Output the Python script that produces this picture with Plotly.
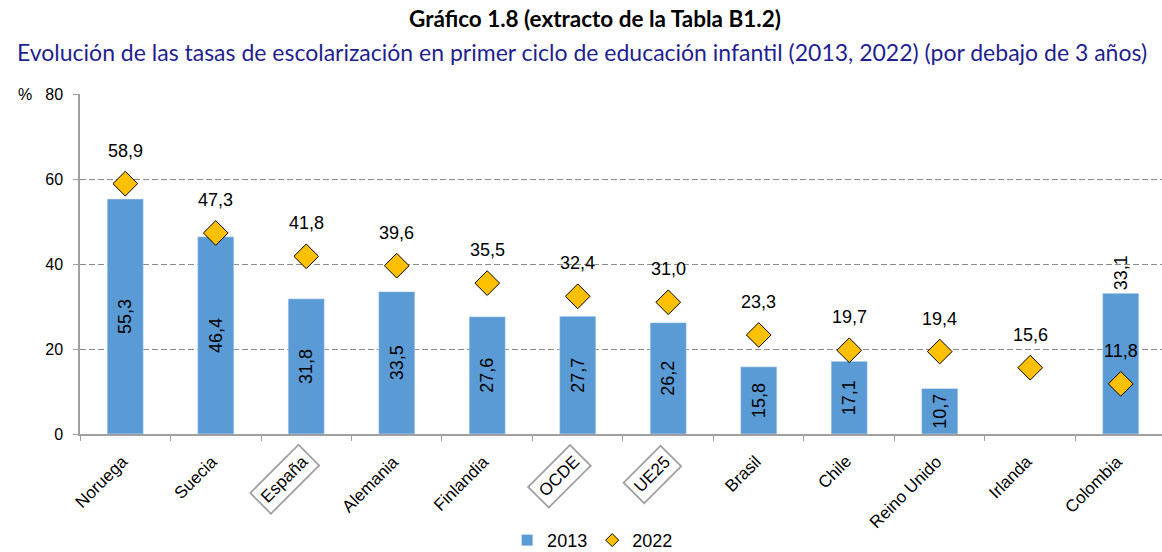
import plotly.graph_objects as go

categories = ["Noruega", "Suecia", "España", "Alemania", "Finlandia", "OCDE", "UE25",
              "Brasil", "Chile", "Reino Unido", "Irlanda", "Colombia"]
values_2013 = [55.3, 46.4, 31.8, 33.5, 27.6, 27.7, 26.2, 15.8, 17.1, 10.7, None, 33.1]
values_2022 = [58.9, 47.3, 41.8, 39.6, 35.5, 32.4, 31.0, 23.3, 19.7, 19.4, 15.6, 11.8]
boxed = ["España", "OCDE", "UE25"]
y_ticks = [0, 20, 40, 60, 80]

def fmt(v):
    return "" if v is None else f"{v:.1f}".replace(".", ",")

AX_FONT = "Liberation Sans, Arial, sans-serif"
BLUE = "#5b9bd5"
GOLD = "#ffc000"
LBL = 18

bar_text = [fmt(v) for v in values_2013]
bar_pos = ["outside" if c == "Colombia" else "inside" for c in categories]

fig = go.Figure()
fig.add_trace(go.Bar(
    x=categories, y=values_2013, name="2013", showlegend=False,
    marker=dict(color=BLUE),
    width=0.4,
    text=bar_text, textposition=bar_pos, textangle=-90,
    insidetextanchor="middle",
    textfont=dict(family=AX_FONT, size=LBL, color="black"),
    outsidetextfont=dict(family=AX_FONT, size=LBL, color="black"),
    cliponaxis=False,
))
fig.add_trace(go.Scatter(
    x=categories, y=values_2022, name="2022", mode="markers", showlegend=False,
    marker=dict(symbol="diamond", size=19, color=GOLD,
                line=dict(color="black", width=1)),
))
# legend-only entries (small symbols like the reference)
fig.add_trace(go.Scatter(x=[None], y=[None], name="2013", mode="markers",
                         marker=dict(symbol="square", size=11, color=BLUE)))
fig.add_trace(go.Scatter(x=[None], y=[None], name="2022", mode="markers",
                         marker=dict(symbol="diamond", size=10, color=GOLD,
                                     line=dict(color="black", width=1))))

PLOT_L, PLOT_R = 80, 0
PLOT_W = 1162 - PLOT_L - PLOT_R

annotations = []
for c, v in zip(categories, values_2022):
    annotations.append(dict(x=c, y=v, xref="x", yref="y", text=fmt(v), showarrow=False,
                            yshift=33, font=dict(family=AX_FONT, size=LBL, color="black")))
for c in categories:
    b = c in boxed
    annotations.append(dict(
        x=c, y=0, xref="x", yref="paper", text=c, showarrow=False,
        textangle=-45, xanchor="right", yanchor="top", xshift=14, yshift=-10,
        font=dict(family=AX_FONT, size=17, color="black"),
        bordercolor="#a0a0a0" if b else "rgba(0,0,0,0)", borderwidth=1.8, borderpad=4,
        bgcolor="white" if b else "rgba(0,0,0,0)",
    ))
annotations.append(dict(x=(595 - PLOT_L) / PLOT_W, y=1.2235, xref="paper", yref="paper",
                        showarrow=False, yanchor="middle",
                        text="<b>Gráfico 1.8 (extracto de la Tabla B1.2)</b>",
                        font=dict(family="Lato, sans-serif", size=22.5, color="black")))
annotations.append(dict(x=(582 - PLOT_L) / PLOT_W, y=1.1235, xref="paper", yref="paper",
                        showarrow=False, yanchor="middle",
                        text="Evolución de las tasas de escolarización en primer ciclo de educación infantil (2013, 2022) (por debajo de 3 años)",
                        font=dict(family="Lato, sans-serif", size=23, color="#1f1f8f")))
annotations.append(dict(x=(16 - PLOT_L) / PLOT_W, y=1.0, xref="paper", yref="paper",
                        showarrow=False, text="%", yanchor="middle",
                        font=dict(family=AX_FONT, size=16, color="black")))

fig.update_layout(
    width=1162, height=552,
    margin=dict(l=PLOT_L, r=PLOT_R, t=94, b=118, autoexpand=False),
    paper_bgcolor="white", plot_bgcolor="white",
    showlegend=True,
    legend=dict(orientation="h", xref="container", yref="container",
                x=0.51, xanchor="center", y=0.021, yanchor="middle",
                font=dict(family=AX_FONT, size=LBL, color="black"),
                itemwidth=30, tracegroupgap=0),
    annotations=annotations,
)
fig.update_xaxes(
    showticklabels=False, showline=True, linecolor="#a0a0a0", linewidth=1.5,
    ticks="outside", tickson="boundaries", ticklen=5, tickcolor="#a0a0a0",
    showgrid=False, range=[-0.5, 11.456], automargin=False,
)
fig.update_yaxes(
    range=[0, 80], tickvals=y_ticks, showline=True, linecolor="#a0a0a0", linewidth=1.5,
    ticks="outside", ticklen=5, tickcolor="#a0a0a0", ticklabelstandoff=7,
    showgrid=True, gridcolor="#8c8c8c", griddash="6px,3px", gridwidth=1.3,
    tickfont=dict(family=AX_FONT, size=16, color="black"), zeroline=False, automargin=False,
)

fig.write_html("out.html", config={"displayModeBar": False},
               post_script="document.body.style.margin='0';document.body.style.padding='0';")
